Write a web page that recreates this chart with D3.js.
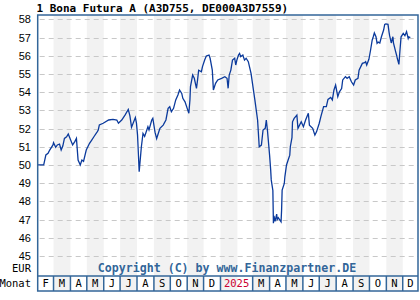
<!DOCTYPE html>
<html lang="en">
<head>
    <meta charset="UTF-8">
    <title>1 Bona Futura A</title>
    <style>
        body { margin: 0; padding: 0; background-color: #fff; }
        svg { display: block; }
        .title { font-family: "DejaVu Sans Mono", monospace; font-size: 11px; font-weight: bold; fill: #000; }
        .ylabel { font-family: "Liberation Sans", Arial, sans-serif; font-size: 11px; fill: #000; }
        .mono { font-family: "DejaVu Sans Mono", monospace; font-size: 10.5px; fill: #000; }
        .copy { font-family: "DejaVu Sans Mono", monospace; font-size: 11.6px; font-weight: bold; fill: #336699; }
        .grid { stroke: #c8c8c8; stroke-width: 1; stroke-dasharray: 5,4; }
        .price { fill: none; stroke: #0b3a9c; stroke-width: 1.3px; }
    </style>
</head>
<body>
<svg id="chart" width="420" height="300"></svg>
<script src="https://d3js.org/d3.v7.min.js"></script>
<script>
    const title = '1 Bona Futura A (A3D755, DE000A3D7559)';
    const copyright = 'Copyright (C) by www.Finanzpartner.DE';
    const yTicks = [45, 46, 47, 48, 49, 50, 51, 52, 53, 54, 55, 56, 57, 58];
    const monthLetters = ['J', 'F', 'M', 'A', 'M', 'J', 'J', 'A', 'S', 'O', 'N', 'D'];
    const dateRange = ['2024-02-01', '2025-12-29'];

    const dates = [
        '2024-02-01','2024-02-12','2024-02-16','2024-02-20','2024-02-23','2024-02-29','2024-03-01','2024-03-05',
        '2024-03-08','2024-03-12','2024-03-15','2024-03-18','2024-03-21','2024-03-25','2024-03-28','2024-04-05',
        '2024-04-09','2024-04-12','2024-04-15','2024-04-19','2024-04-22','2024-04-25','2024-04-30','2024-05-06',
        '2024-05-10','2024-05-14','2024-05-20','2024-05-22','2024-05-24','2024-05-31','2024-06-10','2024-06-18',
        '2024-06-25','2024-06-28','2024-07-04','2024-07-10','2024-07-16','2024-07-19','2024-07-22','2024-07-29',
        '2024-07-31','2024-08-02','2024-08-05','2024-08-09','2024-08-12','2024-08-15','2024-08-21','2024-08-23',
        '2024-08-28','2024-08-30','2024-09-03','2024-09-06','2024-09-12','2024-09-18','2024-09-23','2024-09-27',
        '2024-09-30','2024-10-03','2024-10-07','2024-10-11','2024-10-15','2024-10-18','2024-10-22','2024-10-24',
        '2024-10-28','2024-11-01','2024-11-04','2024-11-06','2024-11-07','2024-11-11','2024-11-14','2024-11-18',
        '2024-11-20','2024-11-22','2024-11-27','2024-11-29','2024-12-03','2024-12-06','2024-12-11','2024-12-13',
        '2024-12-17','2024-12-19','2024-12-23','2024-12-27','2025-01-03','2025-01-09','2025-01-13','2025-01-15',
        '2025-01-17','2025-01-20','2025-01-23','2025-01-27','2025-01-29','2025-01-31','2025-02-03','2025-02-05',
        '2025-02-07','2025-02-11','2025-02-14','2025-02-17','2025-02-21','2025-02-26','2025-03-05','2025-03-10',
        '2025-03-13','2025-03-17','2025-03-20','2025-03-24','2025-03-26','2025-03-28','2025-04-01','2025-04-03',
        '2025-04-04','2025-04-07','2025-04-08','2025-04-09','2025-04-11','2025-04-14','2025-04-15','2025-04-17',
        '2025-04-22','2025-04-23','2025-04-24','2025-04-28','2025-04-29','2025-05-02','2025-05-05','2025-05-08',
        '2025-05-09','2025-05-12','2025-05-13','2025-05-16','2025-05-21','2025-05-23','2025-05-29','2025-06-02',
        '2025-06-06','2025-06-11','2025-06-13','2025-06-19','2025-06-23','2025-06-26','2025-07-01','2025-07-04',
        '2025-07-09','2025-07-14','2025-07-17','2025-07-22','2025-07-25','2025-07-28','2025-07-31','2025-08-04',
        '2025-08-07','2025-08-11','2025-08-13','2025-08-18','2025-08-21','2025-08-25','2025-08-29','2025-09-02',
        '2025-09-05','2025-09-10','2025-09-12','2025-09-18','2025-09-22','2025-09-24','2025-09-26','2025-09-30',
        '2025-10-03','2025-10-06','2025-10-08','2025-10-10','2025-10-13','2025-10-15','2025-10-17','2025-10-20',
        '2025-10-23','2025-10-27','2025-10-29','2025-10-31','2025-11-04','2025-11-06','2025-11-07','2025-11-10',
        '2025-11-13','2025-11-14','2025-11-18','2025-11-20','2025-11-21','2025-11-24','2025-11-26','2025-11-28',
        '2025-12-02','2025-12-05','2025-12-08','2025-12-11','2025-12-12','2025-12-15'
    ];

    const prices = [
        50.00, 50.00, 50.55, 50.64, 50.82, 51.10, 51.22, 50.97,
        51.10, 51.15, 50.82, 51.04, 51.46, 51.55, 51.70, 51.10,
        51.28, 51.46, 50.27, 50.00, 50.27, 50.20, 50.82, 51.19,
        51.37, 51.55, 51.82, 51.92, 52.20, 52.29, 52.47, 52.50,
        52.47, 52.29, 52.47, 52.74, 53.05, 52.70, 52.07, 52.60,
        52.30, 51.64, 49.63, 51.00, 51.73, 51.57, 52.10, 51.93,
        52.47, 52.56, 51.80, 51.45, 52.01, 52.19, 52.47, 53.11,
        53.20, 52.92, 53.11, 53.57, 53.84, 54.12, 53.93, 53.66,
        53.47, 53.11, 52.84, 53.57, 54.30, 54.94, 54.76, 54.21,
        54.67, 55.20, 55.12, 55.40, 55.76, 55.98, 56.04, 55.86,
        55.21, 54.12, 54.48, 54.67, 54.76, 54.85, 54.76, 54.21,
        54.94, 55.21, 55.76, 55.86, 55.49, 55.76, 56.04, 56.13,
        55.95, 56.04, 55.76, 55.86, 55.67, 55.03, 53.57, 52.47,
        51.00, 51.09, 51.92, 52.01, 52.47, 51.92, 50.54, 49.72,
        49.18, 48.60, 46.80, 47.20, 46.90, 47.30, 47.00, 47.10,
        46.88, 47.52, 48.62, 48.99, 49.35, 50.00, 50.27, 50.54,
        51.00, 51.50, 52.37, 52.56, 52.74, 52.01, 52.37, 52.10,
        52.47, 52.84, 52.19, 52.01, 51.64, 51.82, 52.29, 52.65,
        53.20, 53.20, 53.60, 53.71, 53.57, 54.12, 54.39, 53.75,
        54.02, 54.20, 54.67, 54.85, 54.76, 54.85, 54.57, 54.39,
        54.67, 54.76, 55.21, 55.58, 55.62, 55.67, 55.49, 55.80,
        56.30, 56.85, 57.04, 57.25, 57.04, 56.68, 56.75, 56.70,
        57.04, 57.41, 57.72, 57.75, 57.72, 57.28, 57.10, 56.70,
        57.04, 56.70, 56.22, 56.00, 55.86, 55.52, 56.31, 57.04,
        57.23, 57.10, 57.32, 56.95, 57.04, 57.00
    ];

    const parse = d3.timeParse('%Y-%m-%d');
    const series = dates.map((d, i) => ({ date: parse(d), value: prices[i] }));

    const svg = d3.select('#chart');
    const plotLeft = 37.7, plotRight = 418, plotTop = 15, plotBottom = 276, rowBottom = 291;
    const border = '#336699';

    const x = d3.scaleTime()
        .domain(dateRange.map(parse))
        .range([plotLeft, plotRight]);
    const y = d3.scaleLinear()
        .domain([45, 58])
        .range([256, 19.3]);

    // month stripes (every second month shaded)
    const months = d3.timeMonth.range(x.domain()[0], x.domain()[1]);
    svg.append('g').selectAll('rect')
        .data(months.filter((m, i) => i % 2 === 1))
        .enter().append('rect')
        .attr('x', d => x(d))
        .attr('y', plotTop)
        .attr('width', d => Math.min(x(d3.timeMonth.offset(d, 1)), plotRight) - x(d))
        .attr('height', rowBottom - plotTop)
        .attr('fill', '#f2f2f2');

    // horizontal dashed grid
    svg.append('g').selectAll('line')
        .data(yTicks)
        .enter().append('line')
        .attr('class', 'grid')
        .attr('x1', plotLeft + 2)
        .attr('x2', plotRight)
        .attr('y1', d => Math.round(y(d)) + 0.5)
        .attr('y2', d => Math.round(y(d)) + 0.5);

    // y labels
    svg.append('g').selectAll('text')
        .data(yTicks)
        .enter().append('text')
        .attr('class', 'ylabel')
        .attr('x', 31)
        .attr('y', d => y(d) + 4)
        .attr('text-anchor', 'end')
        .text(d => d);

    // price line
    const line = d3.line()
        .x(d => x(d.date))
        .y(d => y(d.value));
    svg.append('path')
        .datum(series)
        .attr('class', 'price')
        .attr('d', line);

    // month row cells: January and February merged into a year cell
    const cells = [];
    for (let i = 0; i < months.length; i++) {
        const m = months[i];
        if (m.getMonth() === 0) {
            cells.push({ x0: x(m), x1: Math.min(x(d3.timeMonth.offset(m, 2)), plotRight), label: String(m.getFullYear()), year: true });
            i++;
        } else {
            cells.push({ x0: Math.max(x(m), plotLeft), x1: Math.min(x(d3.timeMonth.offset(m, 1)), plotRight), label: monthLetters[m.getMonth()], year: false });
        }
    }

    svg.append('g').selectAll('line')
        .data(cells.slice(1))
        .enter().append('line')
        .attr('x1', d => d.x0)
        .attr('x2', d => d.x0)
        .attr('y1', plotBottom)
        .attr('y2', rowBottom)
        .attr('stroke', border)
        .attr('stroke-width', 1.5);

    svg.append('g').selectAll('text')
        .data(cells)
        .enter().append('text')
        .attr('class', 'mono')
        .attr('x', d => (d.x0 + d.x1) / 2)
        .attr('y', 287)
        .attr('text-anchor', 'middle')
        .style('fill', d => d.year ? '#cc0033' : null)
        .text(d => d.label);

    // frame
    svg.append('rect')
        .attr('x', plotLeft)
        .attr('y', plotTop)
        .attr('width', plotRight - plotLeft)
        .attr('height', rowBottom - plotTop)
        .attr('fill', 'none')
        .attr('stroke', border)
        .attr('stroke-width', 1.5);
    svg.append('line')
        .attr('x1', plotLeft).attr('x2', plotRight)
        .attr('y1', plotBottom).attr('y2', plotBottom)
        .attr('stroke', border)
        .attr('stroke-width', 1.5);

    // texts
    svg.append('text').attr('class', 'title').attr('x', 36.5).attr('y', 12).text(title);
    svg.append('text').attr('class', 'copy').attr('x', 227).attr('y', 272).attr('text-anchor', 'middle').text(copyright);
    svg.append('text').attr('class', 'mono').attr('x', 31).attr('y', 272).attr('text-anchor', 'end').text('EUR');
    svg.append('text').attr('class', 'mono').attr('x', 31).attr('y', 287).attr('text-anchor', 'end').text('Monat');
</script>
</body>
</html>
